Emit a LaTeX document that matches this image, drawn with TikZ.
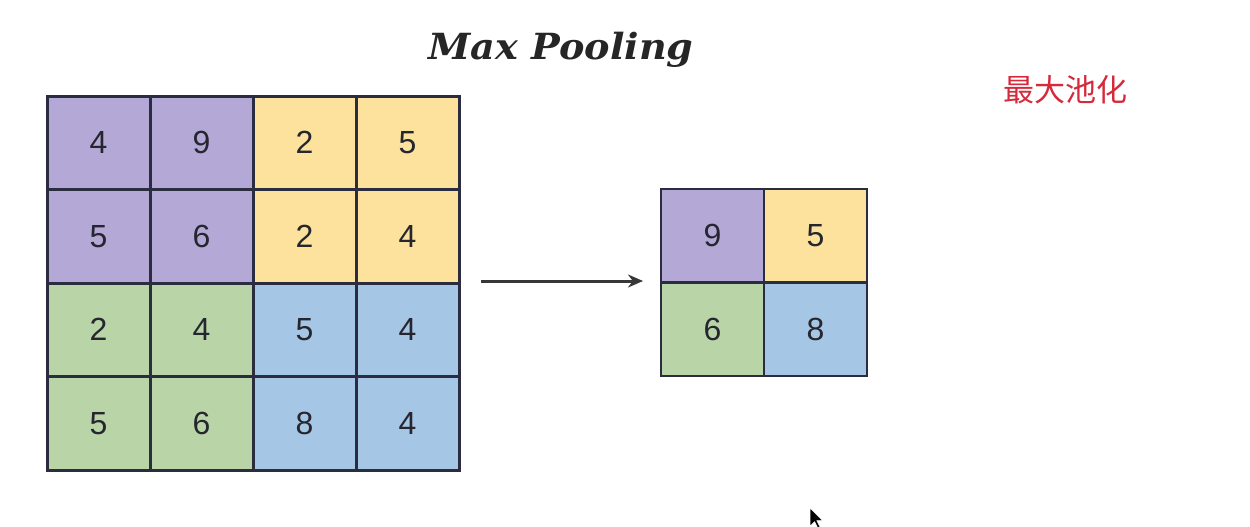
\documentclass[tikz,border=0pt]{standalone}
\usepackage{fontspec}
\setmainfont{Liberation Sans}
\newfontfamily\cjk{Noto Sans CJK SC}
\newfontfamily\titlefont{DejaVu Serif}
\usetikzlibrary{arrows.meta}
\definecolor{cpurple}{HTML}{B3A8D6}
\definecolor{cyellow}{HTML}{FCE29C}
\definecolor{cgreen}{HTML}{B9D5A8}
\definecolor{cblue}{HTML}{A6C6E6}
\definecolor{gridline}{HTML}{2C2C40}
\definecolor{digit}{HTML}{26262E}
\definecolor{cred}{HTML}{D42A3C}
\begin{document}
\begin{tikzpicture}[x=1pt,y=-1pt]
\tikzset{
  cell/.style={draw=gridline, line width=3pt, minimum width=103pt, minimum height=93.5pt,
    inner sep=0pt, font=\fontsize{32}{32}\selectfont, text=digit},
  scell/.style={cell, line width=2.8pt}
}
\fill[white] (0,0) rectangle (1250,527);
\useasboundingbox (0,0) rectangle (1250,527);
% title
\node[font=\titlefont\bfseries\itshape\fontsize{36}{36}\selectfont, xscale=1.06, text=black!85] (title) at (561,50) {Max Pooling};
\node[font=\cjk\fontsize{31}{31}\selectfont, text=cred] (cn) at (1065,90) {最大池化};
% big grid
\node[cell, fill=cpurple] (c11) at (98.5,142.75) {4};
\node[cell, fill=cpurple] (c12) at (201.5,142.75) {9};
\node[cell, fill=cyellow] (c13) at (304.5,142.75) {2};
\node[cell, fill=cyellow] (c14) at (407.5,142.75) {5};
\node[cell, fill=cpurple] (c21) at (98.5,236.25) {5};
\node[cell, fill=cpurple] (c22) at (201.5,236.25) {6};
\node[cell, fill=cyellow] (c23) at (304.5,236.25) {2};
\node[cell, fill=cyellow] (c24) at (407.5,236.25) {4};
\node[cell, fill=cgreen] (c31) at (98.5,329.75) {2};
\node[cell, fill=cgreen] (c32) at (201.5,329.75) {4};
\node[cell, fill=cblue] (c33) at (304.5,329.75) {5};
\node[cell, fill=cblue] (c34) at (407.5,329.75) {4};
\node[cell, fill=cgreen] (c41) at (98.5,423.25) {5};
\node[cell, fill=cgreen] (c42) at (201.5,423.25) {6};
\node[cell, fill=cblue] (c43) at (304.5,423.25) {8};
\node[cell, fill=cblue] (c44) at (407.5,423.25) {4};
% small grid
\node[scell, fill=cpurple] (s11) at (712.5,235.75) {9};
\node[scell, fill=cyellow] (s12) at (815.5,235.75) {5};
\node[scell, fill=cgreen] (s21) at (712.5,329.25) {6};
\node[scell, fill=cblue] (s22) at (815.5,329.25) {8};
% arrow
\coordinate (a1) at (481,281);
\coordinate (a2) at (643,281);
\draw[line width=3pt, draw=black!78, -{Stealth[length=15pt,width=13pt]}] (a1) -- (a2);
% mouse cursor
\fill[black, draw=white, line width=0.6pt, shift={(810,508)}, scale=1.15]
  (0,0) -- (0,16) -- (4,12) -- (7,18) -- (9,17) -- (6,11) -- (11,11) -- cycle;
\end{tikzpicture}
\end{document}
